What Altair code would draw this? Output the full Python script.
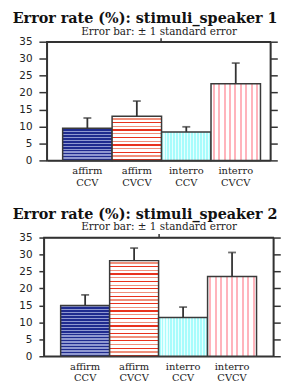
import altair as alt
import pandas as pd

categories = ["affirm CCV", "affirm CVCV", "interro CCV", "interro CVCV"]
s1_mean = [9.5, 13.0, 8.4, 22.6]
s1_se = [3.0, 4.5, 1.5, 6.1]
s2_mean = [15.0, 28.2, 11.4, 23.5]
s2_se = [3.1, 3.7, 3.1, 7.1]
titles = ["Error rate (%): stimuli_speaker 1", "Error rate (%): stimuli_speaker 2"]
subtitle = "Error bar:  \u00b1 1 standard error"
y_ticks = [0, 5, 10, 15, 20, 25, 30, 35]

PLOT_H = 120
Y_MAX = 35

# stripe styles: (direction, period px, [(color, fraction of period)])
stripe_styles = [
    ("h", 3.0, [("#1f2b8f", 0.55), ("#8f98d0", 0.45)]),
    ("h", 7.5, [("#e8321e", 0.17), ("#ffffff", 0.33), ("#f0907c", 0.17), ("#ffffff", 0.33)]),
    ("v", 3.0, [("#a8fcfc", 0.65), ("#e6ffff", 0.35)]),
    ("v", 5.5, [("#ffffff", 0.3), ("#ffb4bc", 0.38), ("#ffffff", 0.32)]),
]


def stripe_gradient(style, length_px):
    direction, period, pattern = style
    stops = []
    pos = 0.0
    while pos < length_px:
        for color, frac in pattern:
            start = min(pos / length_px, 1.0)
            pos += frac * period
            end = min(pos / length_px, 1.0)
            stops.append(alt.GradientStop(offset=start, color=color))
            stops.append(alt.GradientStop(offset=end, color=color))
            if pos >= length_px:
                break
    if direction == "h":
        return alt.Gradient(gradient="linear", stops=stops, x1=0, x2=0, y1=1, y2=0)
    return alt.Gradient(gradient="linear", stops=stops, x1=0, x2=1, y1=0, y2=0)


def panel(means, ses, title, plot_w, pad_outer, align, left_tick, right_extent):
    df = pd.DataFrame({"cat": categories, "mean": means, "se": ses})
    df["upper"] = df["mean"] + df["se"]
    xscale = alt.Scale(domain=categories, paddingInner=0, paddingOuter=pad_outer, align=align)
    yscale = alt.Scale(domain=[0, Y_MAX], nice=False, zero=True)
    band_px = plot_w / (4 + 2 * pad_outer)

    bottom_axis = alt.Axis(
        orient="bottom", ticks=False, title=None, labelAngle=0,
        labelExpr="split(datum.label, ' ')", labelFont="DejaVu Serif",
        labelFontSize=10, labelColor="#222", labelLineHeight=12, labelPadding=5,
        domainColor="#333", domainWidth=1.5,
    )
    left_axis = alt.Axis(
        orient="left", values=y_ticks, title=None, grid=False, tickSize=left_tick,
        tickColor="#333", tickWidth=1.5, domainColor="#333", domainWidth=1.5,
        labelFont="DejaVu Sans", labelFontSize=10.5, labelColor="#222",
        labelPadding=7, minExtent=35, maxExtent=35,
    )
    right_axis = alt.Axis(
        orient="right", values=y_ticks, title=None, grid=False, labels=False,
        tickSize=7, tickColor="#333", tickWidth=1.5, domainColor="#333", domainWidth=1.5,
        minExtent=right_extent, maxExtent=right_extent,
    )
    top_axis = alt.Axis(
        orient="top", values=["interro CCV"], bandPosition=0, labels=False,
        tickSize=4, tickColor="#333", tickWidth=1.5, domainColor="#333", domainWidth=1.5,
        title=subtitle, titleFont="DejaVu Serif", titleFontSize=10.5,
        titleFontWeight="normal", titleColor="#222", titlePadding=1,
    )

    layers = []
    for i, cat in enumerate(categories):
        style = stripe_styles[i]
        length = means[i] / Y_MAX * PLOT_H if style[0] == "h" else band_px
        bar = alt.Chart(df).transform_filter(alt.datum.cat == cat).mark_bar(
            fill=stripe_gradient(style, length), stroke="#3a3a3a", strokeWidth=1.5,
        ).encode(
            x=alt.X("cat:N", scale=xscale, axis=bottom_axis if i == 0 else None),
            y=alt.Y("mean:Q", scale=yscale, axis=left_axis if i == 0 else None),
        )
        layers.append(bar)

    rule = alt.Chart(df).mark_rule(color="#333", strokeWidth=1.8).encode(
        x=alt.X("cat:N", scale=xscale, axis=top_axis),
        y=alt.Y("mean:Q", scale=yscale, axis=right_axis),
        y2="upper:Q",
    )
    cap = alt.Chart(df).mark_tick(color="#333", thickness=1.8, size=8, orient="horizontal").encode(
        x=alt.X("cat:N", scale=xscale, axis=None),
        y=alt.Y("upper:Q", scale=yscale, axis=None),
    )
    layers += [rule, cap]
    return alt.layer(*layers).resolve_axis(x="independent", y="independent").properties(
        width=plot_w, height=PLOT_H,
        title=alt.TitleParams(
            text=title, font="DejaVu Serif", fontSize=14.5, fontWeight="bold",
            color="#111", anchor="middle", frame="bounds", offset=0,
        ),
    )


c1 = panel(s1_mean, s1_se, titles[0], 226, 0.26, 0.615, 8, 7)
c2 = panel(s2_mean, s2_se, titles[1], 232, 0.343, 0.5, 5, 7)

chart = alt.concat(c1, c2, columns=1, center=True, spacing=18).properties(
    padding={"left": 0, "top": 0, "right": 0, "bottom": 0}
).configure_view(stroke="#333", strokeWidth=1.5)

chart.save("out.html", embed_options={"renderer": "svg", "actions": False})
